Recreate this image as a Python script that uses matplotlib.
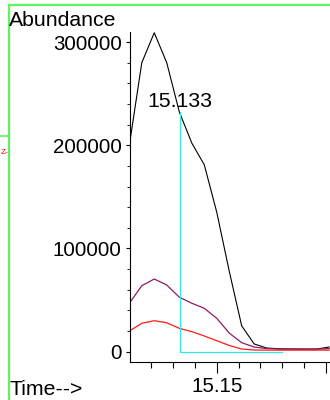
import matplotlib
matplotlib.use("Agg")
import matplotlib.pyplot as plt
from matplotlib.ticker import MultipleLocator, FixedLocator, FuncFormatter
from matplotlib.lines import Line2D

plt.rcParams['font.family'] = ['Liberation Sans', 'DejaVu Sans']

# Data (retention time in minutes, abundance)
times = [15.1100, 15.1157, 15.1214, 15.1271, 15.1329, 15.1386, 15.1443, 15.1500,
         15.1557, 15.1614, 15.1671, 15.1729, 15.1786, 15.1843, 15.1900, 15.1957, 15.2014]
black_series = [200000, 280000, 309000, 280000, 232000, 202000, 181000, 135000,
                78000, 25000, 7500, 3500, 2800, 2600, 2500, 2500, 4500]
purple_series = [46900, 63900, 70400, 64600, 52700, 46900, 42000, 32300,
                 18000, 8700, 4500, 3000, 2600, 2500, 2500, 2500, 3000]
red_series = [20000, 27500, 30000, 28000, 22600, 19400, 15200, 10600,
              6000, 2600, 1600, 1500, 1500, 1500, 1500, 1500, 1500]

peak_label = "15.133"
peak_time = 15.133
peak_top = 232000
baseline_end = 15.18

y_ticks = [0, 100000, 200000, 300000]
x_ticks = [15.15, 15.20]
x_tick_labels = ["15.15", ""]

W, H = 330, 400
fig = plt.figure(figsize=(W / 100, H / 100), dpi=100)
ax = fig.add_axes([130 / W, (H - 362) / H, 200 / W, (362 - 31.7) / H])

ax.plot(times, black_series, color='black', lw=0.8)
ax.plot(times, purple_series, color='#8b1c62', lw=0.9)
ax.plot(times, red_series, color='#ff1a1a', lw=0.9)

# integration marker
ax.plot([peak_time, peak_time, baseline_end], [peak_top, 0, 0], color='#33e8e8', lw=0.9)
ax.text(peak_time, peak_top + 1500, peak_label, ha='center', va='bottom', fontsize=15.3)

ax.set_xlim(15.1103, 15.2018)
ax.set_ylim(-10000, 310000)

ax.spines['top'].set_visible(False)
ax.spines['right'].set_visible(False)
ax.spines['left'].set_linewidth(0.8)
ax.spines['bottom'].set_linewidth(0.8)

ax.yaxis.set_major_locator(FixedLocator(y_ticks))
ax.yaxis.set_minor_locator(MultipleLocator(20000))
ax.yaxis.set_major_formatter(FuncFormatter(lambda v, p: f"{int(round(v))}"))
ax.xaxis.set_major_locator(FixedLocator(x_ticks))
ax.xaxis.set_major_formatter(FuncFormatter(
    lambda v, p: x_tick_labels[p] if p is not None and p < len(x_tick_labels) else ""))
ax.xaxis.set_minor_locator(MultipleLocator(0.01))

ax.tick_params(axis='y', which='major', length=3, width=0.8, labelsize=14.8, pad=3)
ax.tick_params(axis='y', which='minor', length=2, width=0.6)
ax.tick_params(axis='x', which='major', length=8, width=0.8, labelsize=14.8, pad=3)
ax.tick_params(axis='x', which='minor', length=4, width=0.8)

fig.text(9 / W, (H - 26) / H, "Abundance", fontsize=15.3, ha='left', va='baseline')
fig.text(9 / W, (H - 395) / H, "Time-->", fontsize=15.3, ha='left', va='baseline')

# green window frame artifacts
green = '#5cf55c'
fig.add_artist(Line2D([8.5 / W, 1.0], [(H - 5) / H, (H - 5) / H], color=green, lw=1.6, transform=fig.transFigure))
fig.add_artist(Line2D([8.5 / W, 8.5 / W], [0, (H - 5) / H], color=green, lw=1.6, transform=fig.transFigure))
fig.add_artist(Line2D([0, 8.5 / W], [(H - 136) / H, (H - 136) / H], color=green, lw=1.2, transform=fig.transFigure))
fig.text(0.5 / W, (H - 153) / H, "Z-", color='red', fontsize=6, ha='left', va='center')

fig.savefig("out.png", dpi=100)
